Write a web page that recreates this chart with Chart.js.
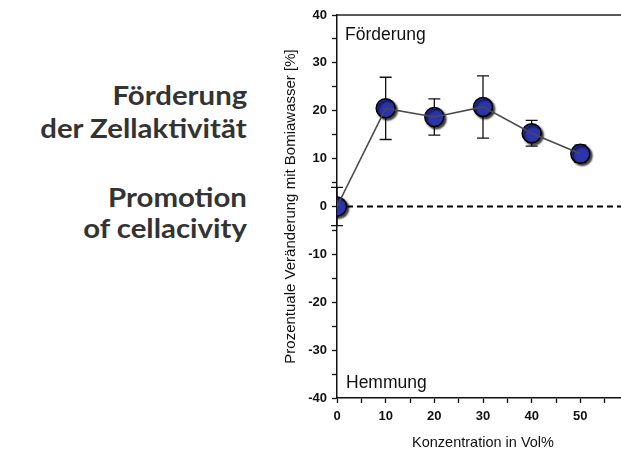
<!DOCTYPE html>
<html>
<head>
<meta charset="utf-8">
<script src="https://cdn.jsdelivr.net/npm/chart.js@4/dist/chart.umd.min.js"></script>
<style>
  html, body { margin: 0; padding: 0; background: #fff; overflow: hidden; width: 621px; height: 456px; }
  #wrap { position: absolute; left: 0; top: 0; width: 700px; height: 456px; }
  .side { position: absolute; right: 374px; font-family: Lato, "Open Sans", sans-serif; font-weight: 700;
          font-size: 26px; color: #333; white-space: nowrap; line-height: 1;
          transform: scaleX(1.13); transform-origin: right center; }
</style>
</head>
<body>
<div class="side" style="top:82px">Förderung</div>
<div class="side" style="top:115px">der Zellaktivität</div>
<div class="side" style="top:184px">Promotion</div>
<div class="side" style="top:215px">of cellacivity</div>
<div id="wrap"><canvas id="c" width="700" height="456"></canvas></div>
<script>
// Concentration steps (Vol%) and mean percentage change with standard deviation
const concentrations = [0, 10, 20, 30, 40, 50];
const meanChange = [0, 20.5, 18.7, 20.8, 15.3, 11.0];
const stdDev = [4.0, 6.5, 3.8, 6.5, 2.7, 1.8];

const xTickStep = 5;
const yTickStep = 5;
const xRange = [0, 60];
const yRange = [-40, 40];

const points = concentrations.map((c, i) => ({ x: c, y: meanChange[i] }));

// Error bars, frame and dashed zero line drawn through the chart's scales
const decorations = {
  id: 'decorations',
  beforeDatasetsDraw(chart) {
    const { ctx, chartArea: a, scales: { x, y } } = chart;
    ctx.save();
    // frame (top/right edges)
    ctx.strokeStyle = '#222';
    ctx.lineWidth = 1.3;
    ctx.beginPath();
    ctx.moveTo(a.left, a.top);
    ctx.lineTo(a.right, a.top);
    ctx.lineTo(a.right, a.bottom);
    ctx.stroke();
    // dashed reference line at 0 %
    const y0 = y.getPixelForValue(0);
    ctx.strokeStyle = '#000';
    ctx.lineWidth = 2;
    ctx.setLineDash([6, 4]);
    ctx.beginPath();
    ctx.moveTo(a.left, y0);
    ctx.lineTo(a.right, y0);
    ctx.stroke();
    ctx.setLineDash([]);
    // error bars
    ctx.strokeStyle = '#111';
    ctx.lineWidth = 1.3;
    concentrations.forEach((c, i) => {
      const px = x.getPixelForValue(c);
      const top = y.getPixelForValue(meanChange[i] + stdDev[i]);
      const bot = y.getPixelForValue(meanChange[i] - stdDev[i]);
      ctx.beginPath();
      ctx.moveTo(px, top); ctx.lineTo(px, bot);
      ctx.moveTo(px - 6, top); ctx.lineTo(px + 6, top);
      ctx.moveTo(px - 6, bot); ctx.lineTo(px + 6, bot);
      ctx.stroke();
    });
    // region labels
    ctx.fillStyle = '#111';
    ctx.font = '17.5px "Liberation Sans", Arial, sans-serif';
    ctx.textBaseline = 'alphabetic';
    ctx.textAlign = 'left';
    ctx.fillText('Förderung', a.left + 8, a.top + 25);
    ctx.fillText('Hemmung', a.left + 9, a.bottom - 10);
    ctx.restore();
  },
  beforeDatasetDraw(chart, args) {
    if (args.index === 1) {
      const ctx = chart.ctx;
      ctx.save();
      ctx.shadowColor = 'rgba(0,0,0,0.75)';
      ctx.shadowOffsetX = 2;
      ctx.shadowOffsetY = 2;
      ctx.shadowBlur = 2;
    }
  },
  afterDatasetDraw(chart, args) {
    if (args.index === 1) chart.ctx.restore();
  }
};

const tickFont = { family: '"Liberation Sans", Arial, sans-serif', size: 13, weight: 'bold' };

new Chart(document.getElementById('c'), {
  type: 'scatter',
  data: {
    datasets: [
      {
        data: points,
        showLine: true,
        borderColor: '#4a4a4a',
        borderWidth: 1.6,
        pointRadius: 0,
        pointHoverRadius: 0
      },
      {
        data: points,
        showLine: false,
        backgroundColor: '#2b33ad',
        borderColor: '#000',
        borderWidth: 1.5,
        pointRadius: 9.5,
        pointHoverRadius: 9.5
      }
    ]
  },
  options: {
    responsive: false,
    animation: false,
    events: [],
    layout: { padding: { left: 270, right: 71, top: 15, bottom: 0 } },
    plugins: { legend: { display: false }, tooltip: { enabled: false } },
    scales: {
      x: {
        type: 'linear',
        min: xRange[0], max: xRange[1],
        afterFit(s) { s.height = 58; },
        border: { display: true, color: '#111', width: 1.5 },
        grid: { display: true, drawOnChartArea: false, tickLength: 5, tickColor: '#111', tickWidth: 1.3 },
        ticks: {
          stepSize: xTickStep, padding: 6, color: '#111', font: tickFont, maxRotation: 0, autoSkip: false,
          callback: v => (v % 10 === 0 ? String(v) : '')
        },
        title: { display: true, text: 'Konzentration in Vol%', color: '#111',
                 font: { family: '"Liberation Sans", Arial, sans-serif', size: 14.5 }, padding: { top: 0, bottom: 4 } }
      },
      y: {
        type: 'linear',
        min: yRange[0], max: yRange[1],
        afterFit(s) { s.width = 67; },
        border: { display: true, color: '#111', width: 1.5 },
        grid: { display: true, drawOnChartArea: false, tickLength: 5, tickColor: '#111', tickWidth: 1.3 },
        ticks: {
          stepSize: yTickStep, padding: 5, color: '#111', font: tickFont, autoSkip: false,
          callback: v => (v % 10 === 0 ? String(v) : '')
        },
        title: { display: true, text: 'Prozentuale Veränderung mit Bomiawasser [%]', color: '#111',
                 font: { family: '"Liberation Sans", Arial, sans-serif', size: 15 }, padding: { top: 12, bottom: 0 } }
      }
    }
  },
  plugins: [decorations]
});
</script>
</body>
</html>
